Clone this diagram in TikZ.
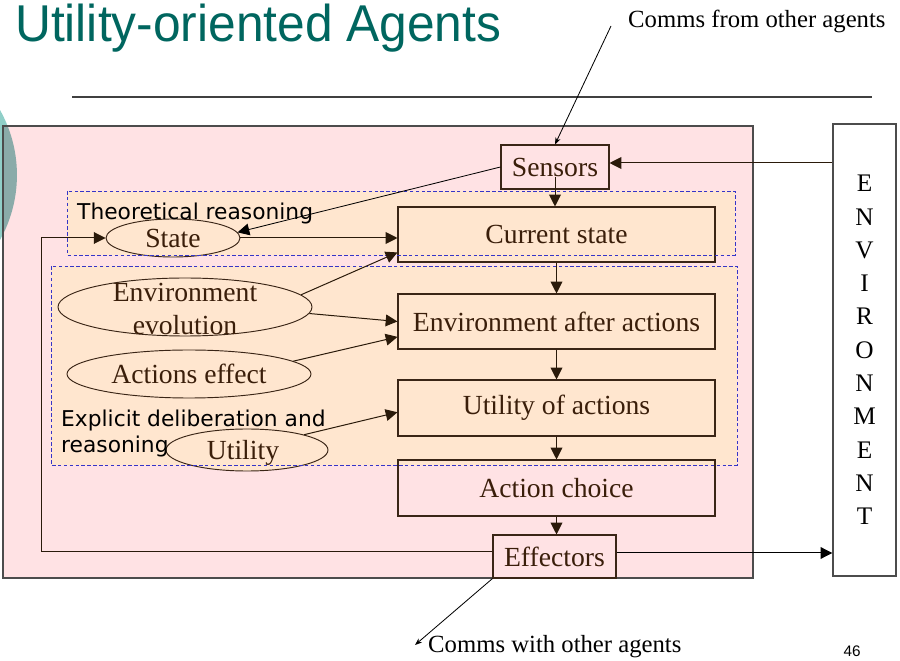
\documentclass[tikz,border=0pt]{standalone}
\usepackage{fontspec}
\setmainfont{Liberation Serif}
\setsansfont{Liberation Sans}
\newfontfamily\verdfont{DejaVu Sans}
\newfontfamily\titlefont[FakeStretch=0.96]{Liberation Sans}
\usetikzlibrary{shapes.geometric,arrows.meta,calc}
\definecolor{pinkbg}{HTML}{FFE2E4}
\definecolor{peach}{HTML}{FFE6CF}
\definecolor{titleteal}{HTML}{00665F}
\definecolor{tealc}{HTML}{90CFC8}
\definecolor{tealdark}{HTML}{8AABA9}
\definecolor{brownln}{HTML}{3A2516}
\definecolor{dashblue}{HTML}{3535C8}
\definecolor{txtbrown}{HTML}{3A1E0A}
\definecolor{arrcol}{HTML}{2A1A0A}
\def\pu{0.85pt}
\begin{document}
\begin{tikzpicture}[x=0.85pt,y=-0.85pt,
  box/.style={draw=brownln, line width=0.9pt, rectangle, inner sep=0pt, font=\fontsize{23.5}{26}\selectfont, text=txtbrown},
  ell/.style={draw=brownln, line width=0.8pt, ellipse, fill=peach, inner sep=0pt},
  elltext/.style={font=\fontsize{23.5}{28}\selectfont, text=txtbrown, align=center, inner sep=0pt},
  arr/.style={draw=arrcol, line width=0.85pt, -{Triangle[length=10pt,width=10pt]}},
  sarr/.style={draw=black, line width=0.7pt, -{Stealth[length=6pt,width=4.5pt]}},
  dbox/.style={draw=dashblue, dash pattern=on 3pt off 2pt, line width=0.75pt},
  captxt/.style={font=\fontsize{21}{24}\selectfont, inner sep=0pt},
  sanstxt/.style={font=\verdfont\fontsize{18.5}{22}\selectfont, inner sep=0pt, text=black}
]
\useasboundingbox (0,0) rectangle (900,661);
% background decorations
\fill[tealc] (-116,175) circle[radius=113pt];
\fill[pinkbg] (3,126) rectangle (753,578);
\begin{scope}
  \clip (3,126) rectangle (753,578);
  \fill[tealdark] (-116,175) circle[radius=113pt];
\end{scope}
\draw[draw=gray!60!black, line width=1.2pt] (3,126) rectangle (753,578);
\draw[draw=black!75, line width=1.5pt] (72,97) -- (872,97);
% title
\node[anchor=base west, inner sep=0pt, font=\titlefont\fontsize{44}{48}\selectfont, text=titleteal] (title) at (15,42) {Utility-oriented Agents};
% reasoning regions (fill)
\fill[peach] (67,191) rectangle (735,255);
\fill[peach] (51,266) rectangle (737,465);
% boxes
\node[box, fill=peach, minimum width=317*\pu, minimum height=55*\pu] (cs) at (556.5,234.5) {Current state};
\node[box, fill=peach, minimum width=317*\pu, minimum height=55*\pu] (ea) at (556.5,321.5) {Environment after actions};
\node[box, fill=peach, minimum width=317*\pu, minimum height=56*\pu] (ua) at (556.5,408) {Utility of actions};
\node[box, minimum width=317*\pu, minimum height=56*\pu] (ac) at (556.5,488) {Action choice};
\node[box, minimum width=108*\pu, minimum height=44*\pu] (se) at (555,167) {Sensors};
\node[box, minimum width=123*\pu, minimum height=43*\pu] (ef) at (554.5,556.5) {Effectors};
\node[draw=gray!60!black, line width=1.2pt, fill=white, minimum width=63*\pu, minimum height=452*\pu, align=center, font=\fontsize{21.5}{28.3}\selectfont, inner sep=0pt] (env) at (864.5,350) {E\\N\\V\\I\\R\\O\\N\\M\\E\\N\\T};
% ellipses
\node[ell, minimum width=134*\pu, minimum height=38*\pu] (st) at (173,238) {};
\node[elltext] (stt) at (st) {State};
\node[ell, minimum width=254*\pu, minimum height=58*\pu] (ee) at (185,307) {};
\node[elltext] (eet) at (185,309) {Environment\\evolution};
\node[ell, minimum width=244*\pu, minimum height=48*\pu] (ae) at (189,374) {};
\node[elltext] (aet) at (ae) {Actions effect};
\node[ell, minimum width=162*\pu, minimum height=42*\pu] (ut) at (247,450) {};
\node[elltext] (utt) at (243,453) {Utility};
% dashed borders
\draw[dbox] (67,191) rectangle (735,255);
\draw[dbox] (51,266) rectangle (737,465);
% region labels
\node[sanstxt, anchor=base west] (lt) at (77,220) {Theoretical reasoning};
\node[sanstxt, anchor=base west] (le1) at (61,427) {Explicit deliberation and};
\node[sanstxt, anchor=base west] (le2) at (61,453) {reasoning};
% outside texts
\node[captxt, anchor=base west] (cfrom) at (628,28) {Comms from other agents};
\node[captxt, anchor=base west] (cwith) at (428,652) {Comms with other agents};
\node[anchor=base, inner sep=0pt, font=\sffamily\fontsize{13}{15}\selectfont] (pg) at (852,656) {46};
% connectors
\coordinate (cfs) at (611,26);
\coordinate (ctip) at (415,645);
\draw[sarr] (cfs) -- (se.north);
\coordinate (sein) at ($(se.east)+(0,-4)$);
\draw[arr] (env.west |- sein) -- (sein);
\draw[arr] ($(se.center)+(0,10)$) -- (se.center |- cs.north);
\draw[draw=black, line width=0.7pt, -{Triangle[length=10pt,width=10pt]}] (se.west) -- (st.5);
\draw[arr] (st.east) -- (st.east -| cs.west);
\draw[arr] (ee.6) -- ($(cs.south west)!0.18!(cs.north west)$);
\draw[arr] (ee.-3) -- (ea.west);
\draw[arr] (ae.7) -- ($(ea.west)!0.55!(ea.south west)$);
\draw[arr] (ut.15) -- ($(ua.west)!0.15!(ua.south west)$);
\draw[arr] (cs.south) -- (ea.north);
\draw[arr] (ea.south) -- (ua.north);
\draw[arr] (ua.south) -- (ac.north);
\draw[arr] (ac.south) -- (ac.south |- ef.north);
\coordinate (efo) at ($(ef.east)+(0,-3.5)$);
\draw[draw=black, line width=0.85pt, -{Triangle[length=10pt,width=10pt]}] (efo) -- (efo -| env.west);
\coordinate (efi) at ($(ef.west)+(0,-5)$);
\coordinate (lp) at (41,551);
\draw[arr] (efi) -- (efi -| lp) |- (st.west);
\draw[sarr] (ef.south west) -- (ctip);
\end{tikzpicture}
\end{document}
